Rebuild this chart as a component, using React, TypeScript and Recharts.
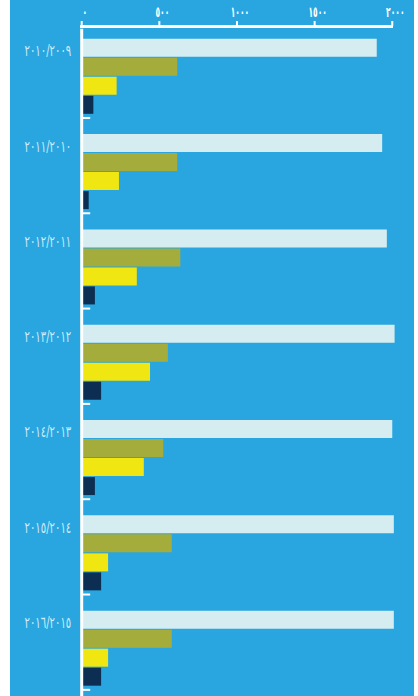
import React from 'react';
import { BarChart, Bar, XAxis, YAxis } from 'recharts';

const categories = ['٢٠١٠/٢٠٠٩', '٢٠١١/٢٠١٠', '٢٠١٢/٢٠١١', '٢٠١٣/٢٠١٢', '٢٠١٤/٢٠١٣', '٢٠١٥/٢٠١٤', '٢٠١٦/٢٠١٥'];
const series1 = [1900, 1935, 1965, 2015, 2000, 2010, 2010];
const series2 = [615, 615, 635, 555, 525, 580, 580];
const series3 = [225, 240, 355, 440, 400, 170, 170];
const series4 = [75, 45, 85, 125, 85, 125, 125];
const xTickValues = [0, 500, 1000, 1500, 2000];
const xTickLabels = ['٠', '٥٠٠', '١٠٠٠', '١٥٠٠', '٢٠٠٠'];
const xDomain = [0, 2100];

const data = categories.map((name, i) => ({
  name,
  s1: series1[i],
  s2: series2[i],
  s3: series3[i],
  s4: series4[i],
}));

const CHART_W = 418;
const CHART_H = 696;
const PLOT_LEFT = 81.7;
const PLOT_TOP = 28.8;
const AXIS_LEFT = 80;
const FONT = '"DejaVu Sans Condensed", "DejaVu Sans", sans-serif';

const XTick = (props: any) => {
  const { x, y, payload } = props;
  const idx = xTickValues.indexOf(payload.value);
  const label = xTickLabels[idx];
  const isLast = idx === xTickValues.length - 1;
  return (
    <g>
      {isLast && (
        <rect x={AXIS_LEFT} y={y - 3.8} width={x + 0.7 - AXIS_LEFT} height={3} fill="#ffffff" />
      )}
      <rect x={x - 1} y={y - 7.8} width={2} height={5} fill="#ffffff" />
      <g transform={`translate(${x + 3},${y - 11.5}) scale(0.58,1)`}>
        <text x={0} y={0} textAnchor="middle" fill="#ffffff" fontSize={14.5} fontWeight="bold" fontFamily={FONT}>
          {label}
        </text>
      </g>
    </g>
  );
};

const YTick = (props: any) => {
  const { x, y, payload } = props;
  return (
    <g>
      <rect x={x} y={y + 40.5} width={8.5} height={2} fill="#ffffff" />
      <g transform={`translate(${x - 10.5},${y - 26}) scale(0.7,1)`}>
        <text x={0} y={0} dy="0.36em" textAnchor="end" fill="#d2ebf7" fontSize={16} fontFamily={FONT}>
          {payload.value}
        </text>
      </g>
    </g>
  );
};

export default function App() {
  return (
    <div style={{ position: 'absolute', left: 0, top: 0, width: CHART_W, height: CHART_H, background: '#ffffff' }}>
      <div style={{ position: 'absolute', left: 10, top: 0, width: 404, height: CHART_H, background: '#29a6df' }} />
      <div style={{ position: 'absolute', left: 0, top: 0 }}>
        <BarChart
          width={CHART_W}
          height={CHART_H}
          data={data}
          layout="vertical"
          margin={{ top: 0, right: 10.2, bottom: 0, left: 0 }}
          barSize={18}
          barGap={1}
        >
          <XAxis
            type="number"
            orientation="top"
            domain={xDomain}
            ticks={xTickValues}
            interval={0}
            height={PLOT_TOP}
            axisLine={false}
            tickLine={false}
            tickSize={0}
            tickMargin={0}
            tick={<XTick />}
          />
          <Bar dataKey="s1" fill="#d5edf0" isAnimationActive={false} />
          <Bar dataKey="s2" fill="#a4ad3b" isAnimationActive={false} />
          <Bar dataKey="s3" fill="#efe612" isAnimationActive={false} />
          <Bar dataKey="s4" fill="#0c2e52" isAnimationActive={false} />
          <YAxis
            type="category"
            dataKey="name"
            width={PLOT_LEFT}
            interval={0}
            axisLine={{ stroke: '#ffffff', strokeWidth: 3 }}
            tickLine={false}
            tickSize={0}
            tickMargin={0}
            tick={<YTick />}
          />
        </BarChart>
      </div>
    </div>
  );
}
